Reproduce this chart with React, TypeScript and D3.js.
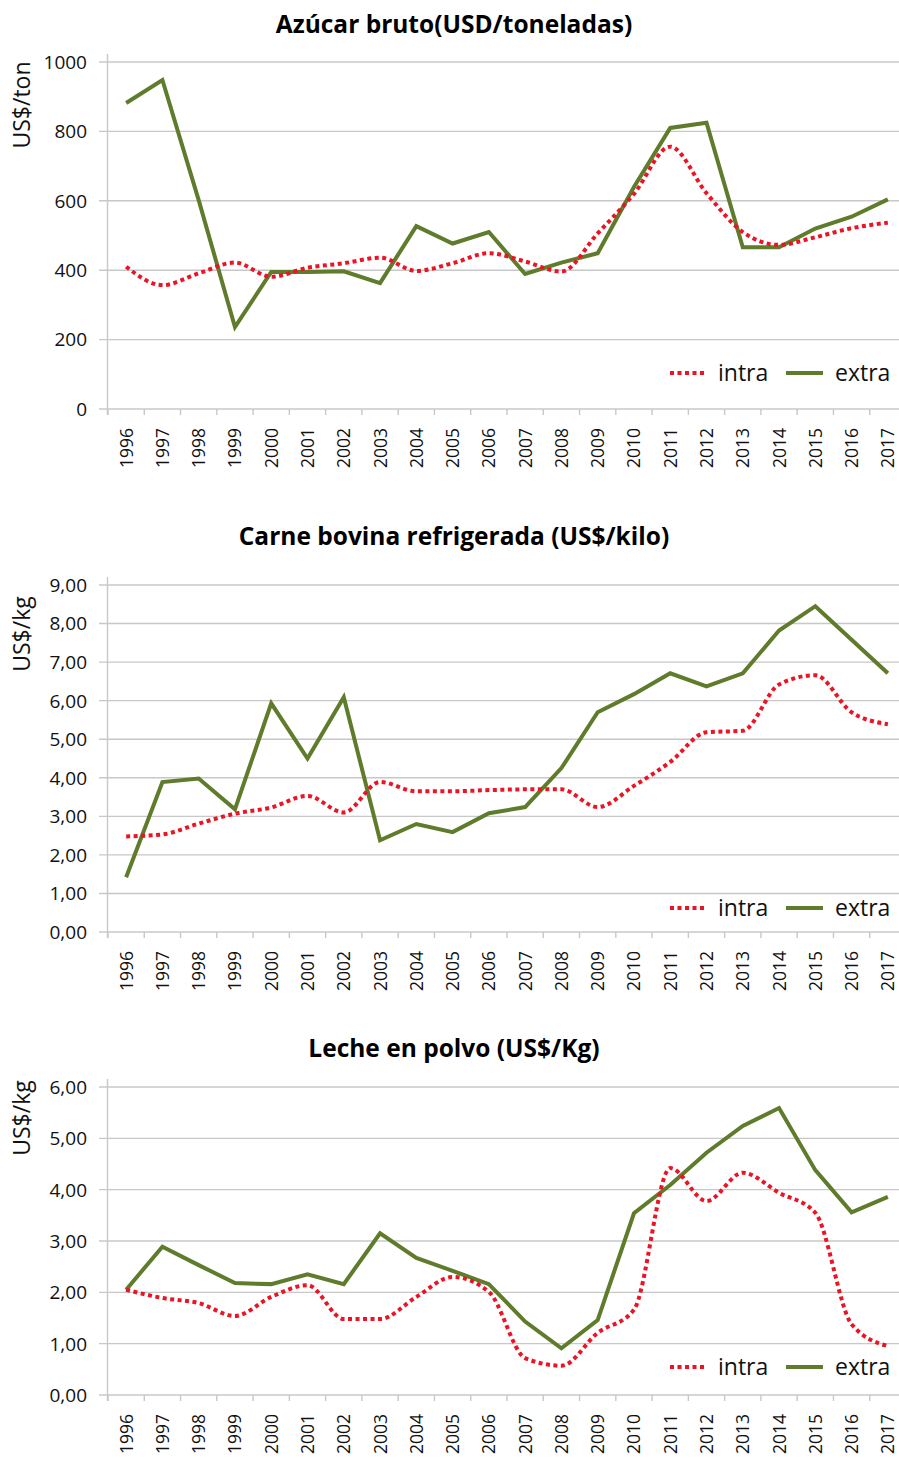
import React from "react";
import * as d3 from "d3";

const years = ["1996","1997","1998","1999","2000","2001","2002","2003","2004","2005","2006","2007","2008","2009","2010","2011","2012","2013","2014","2015","2016","2017"];

const azucarIntra = [410, 357, 391, 422, 381, 407, 420, 436, 398, 420, 449, 425, 396, 506, 620, 756, 622, 510, 473, 495, 521, 537];
const azucarExtra = [882, 948, 602, 236, 395, 395, 397, 363, 527, 477, 510, 389, 422, 449, 640, 810, 825, 466, 466, 520, 554, 604];
const azucarTicks = [0, 200, 400, 600, 800, 1000];

const carneIntra = [2.48, 2.53, 2.81, 3.07, 3.23, 3.53, 3.10, 3.89, 3.65, 3.65, 3.68, 3.70, 3.70, 3.24, 3.79, 4.41, 5.18, 5.22, 6.42, 6.66, 5.70, 5.39];
const carneExtra = [1.42, 3.89, 3.98, 3.18, 5.93, 4.50, 6.09, 2.38, 2.80, 2.59, 3.08, 3.24, 4.25, 5.70, 6.17, 6.71, 6.37, 6.71, 7.82, 8.45, 7.58, 6.71];
const carneTicks = [0, 1, 2, 3, 4, 5, 6, 7, 8, 9];

const lecheIntra = [2.05, 1.89, 1.79, 1.54, 1.91, 2.14, 1.48, 1.48, 1.91, 2.30, 2.01, 0.72, 0.57, 1.21, 1.66, 4.42, 3.78, 4.33, 3.94, 3.55, 1.38, 0.95];
const lecheExtra = [2.05, 2.89, 2.53, 2.18, 2.16, 2.35, 2.16, 3.15, 2.67, 2.42, 2.16, 1.43, 0.91, 1.46, 3.54, 4.09, 4.72, 5.24, 5.59, 4.38, 3.56, 3.86];
const lecheTicks = [0, 1, 2, 3, 4, 5, 6];

const seriesNames = ["intra", "extra"];

const locale = d3.formatLocale({ decimal: ",", thousands: ".", grouping: [3], currency: ["$", ""] });
const fmt2 = locale.format(".2f");
const fmtInt = (v: number) => String(v);

const FONT = "'Open Sans', 'Noto Sans', sans-serif";
const RED = "#ec1424";
const GREEN = "#5f7b2c";
const GRID = "#c8c8c8";

type ChartCfg = {
  title: string;
  yLabel: string;
  ticks: number[];
  fmt: (v: number) => string;
  intra: number[];
  extra: number[];
  yTop: number;
  yBottom: number;
  titleY: number;
  legendY: number;
  yLabelCenter: number;
};

const charts: ChartCfg[] = [
  { title: "Azúcar bruto(USD/toneladas)", yLabel: "US$/ton", ticks: azucarTicks, fmt: fmtInt, intra: azucarIntra, extra: azucarExtra, yTop: 62, yBottom: 409, titleY: 33, legendY: 373, yLabelCenter: 105 },
  { title: "Carne bovina refrigerada (US$/kilo)", yLabel: "US$/kg", ticks: carneTicks, fmt: fmt2, intra: carneIntra, extra: carneExtra, yTop: 585, yBottom: 932, titleY: 545, legendY: 908, yLabelCenter: 634 },
  { title: "Leche en polvo (US$/Kg)", yLabel: "US$/kg", ticks: lecheTicks, fmt: fmt2, intra: lecheIntra, extra: lecheExtra, yTop: 1087, yBottom: 1395, titleY: 1057, legendY: 1367, yLabelCenter: 1118 },
];

const X0 = 108;
const X1 = 906;

function Chart({ cfg }: { cfg: ChartCfg }) {
  const x = d3.scaleBand<string>().domain(years).range([X0, X1]).paddingInner(0).paddingOuter(0);
  const maxT = cfg.ticks[cfg.ticks.length - 1];
  const y = d3.scaleLinear().domain([0, maxT]).range([cfg.yBottom, cfg.yTop]);
  const cx = (i: number) => (x(years[i]) as number) + x.bandwidth() / 2;
  const lineStraight = d3.line<number>().x((_, i) => cx(i)).y((v) => y(v));
  const lineSmooth = d3.line<number>().x((_, i) => cx(i)).y((v) => y(v)).curve(d3.curveMonotoneX);
  const bw = x.bandwidth();
  const boundaries = d3.range(years.length + 1).map((i) => X0 + i * bw);

  return (
    <g>
      <text x={454} y={cfg.titleY} textAnchor="middle" fontFamily={FONT} fontWeight={700} fontSize={24.5} fill="#000">
        {cfg.title}
      </text>
      {cfg.ticks.map((t) => (
        <g key={t}>
          <line x1={99} x2={X1} y1={y(t)} y2={y(t)} stroke={GRID} strokeWidth={1.4} />
          <text x={87} y={y(t)} dy="0.36em" textAnchor="end" fontFamily={FONT} fontSize={19} fill="#111">
            {cfg.fmt(t)}
          </text>
        </g>
      ))}
      <line x1={X0 - 0.5} x2={X0 - 0.5} y1={cfg.yTop - 8} y2={cfg.yBottom + 6} stroke={GRID} strokeWidth={1.4} />
      {boundaries.map((bx, i) => (
        <line key={i} x1={bx} x2={bx} y1={cfg.yBottom} y2={cfg.yBottom + 6} stroke={GRID} strokeWidth={1.4} />
      ))}
      {years.map((yr, i) => (
        <text key={yr} transform={`translate(${cx(i) + 6.5},${cfg.yBottom + 19}) rotate(-90)`} textAnchor="end" fontFamily={FONT} fontSize={17.5} fill="#111">
          {yr}
        </text>
      ))}
      <text transform={`translate(30,${cfg.yLabelCenter}) rotate(-90)`} textAnchor="middle" fontFamily={FONT} fontSize={23} fill="#111">
        {cfg.yLabel}
      </text>
      <path d={lineStraight(cfg.extra) || ""} fill="none" stroke={GREEN} strokeWidth={4} strokeLinejoin="miter" />
      <path d={lineSmooth(cfg.intra) || ""} fill="none" stroke={RED} strokeWidth={4} strokeDasharray="4 3.5" />
      <g>
        <line x1={670} x2={707} y1={cfg.legendY} y2={cfg.legendY} stroke={RED} strokeWidth={4} strokeDasharray="4 3.5" />
        <text x={718} y={cfg.legendY} dy="0.34em" fontFamily={FONT} fontSize={23} fill="#111">{seriesNames[0]}</text>
        <line x1={786} x2={823} y1={cfg.legendY} y2={cfg.legendY} stroke={GREEN} strokeWidth={4} />
        <text x={835} y={cfg.legendY} dy="0.34em" fontFamily={FONT} fontSize={23} fill="#111">{seriesNames[1]}</text>
      </g>
    </g>
  );
}

export default function App() {
  return (
    <svg width={899} height={1458} viewBox="0 0 899 1458" style={{ position: "absolute", left: 0, top: 0, background: "#fff" }}>
      <rect width={899} height={1458} fill="#fff" />
      {charts.map((c, i) => (
        <Chart key={i} cfg={c} />
      ))}
    </svg>
  );
}
